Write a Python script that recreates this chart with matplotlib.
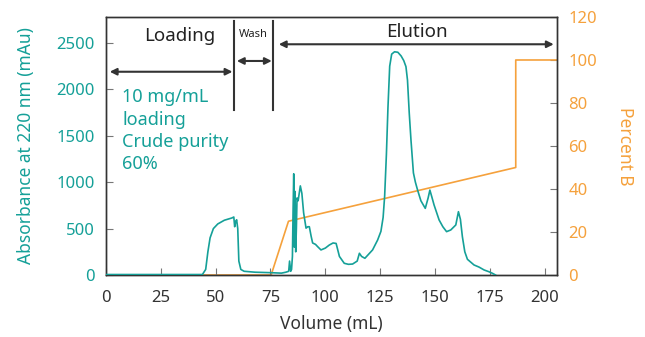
import matplotlib
matplotlib.use("Agg")
import matplotlib.pyplot as plt

plt.rcParams['font.family'] = ['Noto Sans', 'DejaVu Sans']

TEAL = '#15a098'
ORANGE = '#f5a13c'
DARK = '#333333'

# UV trace (mAu)
vol_uv = [0, 44, 45.5, 46.5, 47.5, 49, 51, 54, 57.5, 58.3, 58.7, 59.2, 59.6, 60.1,
          60.6, 61.5, 63, 68, 75, 80, 82, 83.3, 83.7, 84.2, 84.6, 85.0, 85.3, 85.6,
          85.9, 86.2, 86.5, 86.8, 87.1, 87.6, 88.6, 89.3, 90.1, 91.2, 92.0, 92.7,
          93.5, 94.2, 95.5, 96.5, 98, 100, 101.8, 103.5, 104.9, 106.4, 108.6, 110.5,
          112.4, 114.5, 115.5, 116.5, 118, 121.5, 123.8, 125.3, 126.3, 127.0, 127.8,
          128.5, 129.3, 130.2, 131.5, 133, 134.5, 135.7, 136.7, 137.4, 138.2, 139.0,
          140.1, 141, 142, 143.5, 145.5, 146.8, 147.6, 148.5, 149.5, 151.8, 153.5,
          155.2, 157.1, 159.4, 160.6, 161.5, 162.4, 163.5, 164.7, 167.7, 170, 172.3,
          174.5, 176.1, 177.5]
absorb = [5, 5, 60, 250, 400, 500, 550, 590, 615, 625, 520, 580, 595, 500,
          150, 60, 40, 30, 25, 20, 30, 40, 150, 40, 60, 200, 700, 1090,
          300, 900, 250, 500, 830, 800, 960, 880, 670, 505, 520, 520,
          420, 345, 330, 305, 270, 290, 323, 345, 340, 200, 126, 115,
          118, 150, 234, 200, 180, 270, 377, 470, 620, 850, 1300,
          1800, 2250, 2380, 2405, 2400, 2360, 2310, 2245, 2100, 1745, 1450,
          1100, 1000, 915, 800, 718, 830, 915, 840, 755, 593, 520,
          467, 485, 539, 682, 600, 413, 250, 169, 108, 85, 54,
          35, 18, 0]

# gradient (% B)
vol_b = [0, 75.3, 83.2, 186.7, 186.7, 205.5]
pct_b = [0, 0, 25, 50, 100, 100]

fig = plt.figure(figsize=(6.45, 3.37), dpi=100)
ax = fig.add_axes([0.164, 0.184, 0.6996, 0.7656])
ax2 = ax.twinx()

ax.plot(vol_uv, absorb, color=TEAL, lw=1.2, zorder=3)
ax2.plot(vol_b, pct_b, color=ORANGE, lw=1.2)
ax.set_zorder(ax2.get_zorder() + 1)
ax.patch.set_visible(False)

ax.set_xlim(0, 205.5)
ax.set_ylim(0, 2780)
ax2.set_ylim(0, 120)
ax.set_xticks(range(0, 201, 25))
ax.set_yticks(range(0, 2501, 500))
ax2.set_yticks(range(0, 121, 20))

for a in (ax, ax2):
    for s in a.spines.values():
        s.set_color(DARK)
        s.set_linewidth(1.0)
ax.tick_params(axis='x', direction='in', length=5, color='#777777', labelsize=12,
               labelcolor=DARK, pad=11)
ax.tick_params(axis='y', direction='in', length=5, color='#777777', labelsize=12,
               labelcolor=TEAL, pad=8)
ax2.tick_params(axis='y', direction='in', length=5, color='#777777', labelsize=12,
                labelcolor=ORANGE, pad=8)

ax.set_xlabel('Volume (mL)', fontsize=12.5, color=DARK, labelpad=6)
ax.set_ylabel('Absorbance at 220 nm (mAu)', fontsize=12.5, color=TEAL, labelpad=15)
ax2.set_ylabel('Percent B', fontsize=12.5, color=ORANGE, rotation=270, labelpad=27)

# phase markers
for xv in (58.6, 76.2):
    ax.plot([xv, xv], [1780, 2740], color=DARK, lw=1.5, zorder=4)

arrow = dict(arrowstyle='<|-|>', color=DARK, lw=1.5, mutation_scale=10,
             shrinkA=0, shrinkB=0)
ax.annotate('', xy=(1.8, 2190), xytext=(57.7, 2190), arrowprops=arrow)
ax.annotate('', xy=(59.7, 2306), xytext=(75.6, 2306), arrowprops=arrow)
ax.annotate('', xy=(78.8, 2486), xytext=(204, 2486), arrowprops=arrow)

ax.text(33.6, 2570, 'Loading', fontsize=13.5, color='#222222', ha='center', va='center')
ax.text(67.4, 2590, 'Wash', fontsize=8, color='#222222', ha='center', va='center')
ax.text(141.8, 2615, 'Elution', fontsize=13.5, color='#222222', ha='center', va='center')

ax.text(7.6, 2010, '10 mg/mL\nloading\nCrude purity\n60%', fontsize=13,
        color=TEAL, ha='left', va='top', linespacing=1.3)

fig.savefig('out.png', dpi=100)
